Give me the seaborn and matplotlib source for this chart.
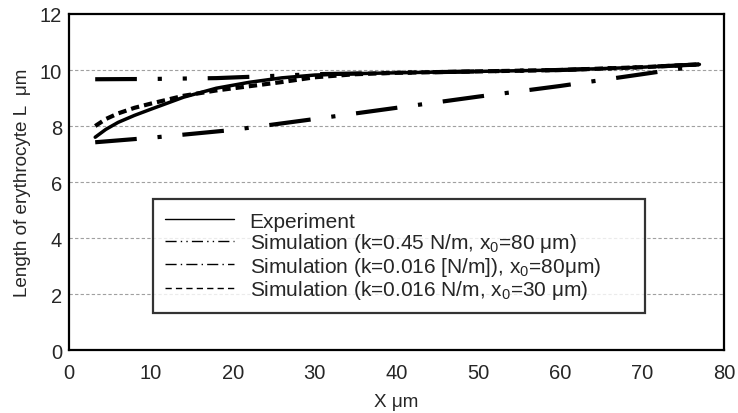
import matplotlib
matplotlib.use("Agg")
import matplotlib.pyplot as plt
from matplotlib.lines import Line2D
import seaborn as sns

# Experiment
exp_x = [3.2, 4.5, 6, 8, 10, 14, 18, 22, 26, 30, 35, 40, 50, 60, 70, 77]
exp_y = [7.6, 7.88, 8.13, 8.38, 8.6, 9.03, 9.35, 9.56, 9.72, 9.82, 9.87, 9.9, 9.95, 10.0, 10.1, 10.2]

# Simulation (k=0.45 N/m, x0=80 um)
sim1_x = [3.2, 10, 18, 25, 30, 40, 50, 60, 70, 77]
sim1_y = [9.67, 9.68, 9.71, 9.79, 9.85, 9.9, 9.95, 10.0, 10.1, 10.2]

# Simulation (k=0.016 N/m, x0=80 um)
sim2_x = [3.2, 10, 20, 30, 40, 50, 60, 70, 77]
sim2_y = [7.42, 7.58, 7.86, 8.25, 8.65, 9.05, 9.43, 9.85, 10.15]

# Simulation (k=0.016 N/m, x0=30 um)
sim3_x = [3.2, 4.5, 6, 8, 10, 14, 18, 22, 26, 30, 35, 40, 50, 60, 70, 77]
sim3_y = [8.0, 8.25, 8.45, 8.65, 8.8, 9.08, 9.27, 9.42, 9.57, 9.74, 9.85, 9.9, 9.95, 10.0, 10.1, 10.2]

labels = [
    "Experiment",
    "Simulation (k=0.45 N/m, x$_0$=80 μm)",
    "Simulation (k=0.016 [N/m]), x$_0$=80μm)",
    "Simulation (k=0.016 N/m, x$_0$=30 μm)",
]

sns.set_theme(style="white")
plt.rcParams["font.family"] = ["Liberation Sans", "DejaVu Sans"]
plt.rcParams["mathtext.fontset"] = "custom"
plt.rcParams["mathtext.rm"] = "Liberation Sans"
plt.rcParams["mathtext.it"] = "Liberation Sans"

DASHDOTDOT = (0, (10, 5, 1, 5, 1, 5))
DASHDOT = (0, (10, 5, 1, 5))
DASHED = (0, (2, 1.2))

fig = plt.figure(figsize=(7.38, 4.14), dpi=100)
ax = fig.add_axes([0.0935, 0.152, 0.8875, 0.8118])

for y in [2, 4, 6, 8, 10]:
    ax.axhline(y, color="#a0a0a0", lw=0.8, ls=(0, (3, 2)), zorder=0)

sns.lineplot(x=sim2_x, y=sim2_y, ax=ax, color="black", lw=3, linestyle=DASHDOT, dash_capstyle="butt")
sns.lineplot(x=sim1_x, y=sim1_y, ax=ax, color="black", lw=3, linestyle=DASHDOTDOT, dash_capstyle="butt")
sns.lineplot(x=sim3_x, y=sim3_y, ax=ax, color="black", lw=3, linestyle=DASHED, dash_capstyle="butt")
sns.lineplot(x=exp_x, y=exp_y, ax=ax, color="black", lw=2.5)

ax.set_xlim(0, 80)
ax.set_ylim(0, 12)
ax.set_xticks(range(0, 81, 10))
ax.set_yticks(range(0, 13, 2))
ax.tick_params(axis="x", direction="in", length=8, width=0.8, color="#808080", labelsize=14.5, pad=9)
ax.tick_params(axis="y", length=0, labelsize=14.5, pad=5)
for s in ax.spines.values():
    s.set_color("black")
    s.set_linewidth(1.6)
ax.set_xlabel("X μm", fontsize=13.6, labelpad=8)
ax.set_ylabel("Length of erythrocyte L  μm", fontsize=13.6, labelpad=6)

handles = [
    Line2D([], [], color="black", lw=1),
    Line2D([], [], color="black", lw=1, ls=(0, (8, 3, 1, 3, 1, 3))),
    Line2D([], [], color="black", lw=1, ls=(0, (8, 3, 1, 3))),
    Line2D([], [], color="black", lw=1, ls=(0, (4.5, 3))),
]
leg = ax.legend(handles, labels, loc="upper left", bbox_to_anchor=(0.128, 0.0, 0.751, 0.449),
                mode="expand", borderaxespad=0, fontsize=15, frameon=True, fancybox=False,
                handlelength=3.3, handletextpad=0.75, labelspacing=0.02,
                borderpad=0.6)
leg.get_frame().set_edgecolor("black")
leg.get_frame().set_linewidth(1.6)

fig.savefig("out.png", dpi=100, facecolor="white")
